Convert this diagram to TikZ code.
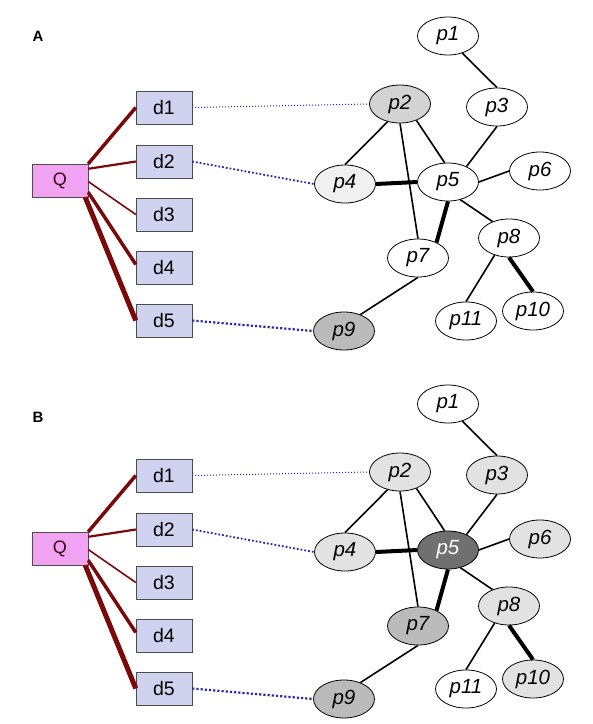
\documentclass[tikz,border=0pt]{standalone}
\usepackage{fontspec}
\setmainfont{Liberation Sans}
\usetikzlibrary{shapes.geometric,calc}
\definecolor{qfill}{HTML}{F2A2F2}
\definecolor{dfill}{HTML}{D0D3EF}
\definecolor{qline}{HTML}{7A0A0A}
\definecolor{dotblue}{HTML}{2A2AA8}
\definecolor{gA}{HTML}{D3D3D3}
\definecolor{gL}{HTML}{F0F0F0}
\definecolor{gM}{HTML}{BBBBBB}
\definecolor{gB}{HTML}{E2E2E2}
\definecolor{gD}{HTML}{707070}
\begin{document}
\begin{tikzpicture}[x=1pt,y=-1pt,
 txt/.style={font=\fontsize{19.5}{21}\selectfont},
 qbox/.style={font=\fontsize{18}{20}\selectfont,draw=black!70,fill=qfill,minimum width=56,minimum height=33,inner sep=0,text=black!70!purple},
 dbox/.style={txt,draw=black!70,fill=dfill,minimum width=56,minimum height=33,inner sep=0},
 pn/.style={ellipse,draw,line width=0.8,fill=white,minimum width=61,minimum height=38,inner sep=0,font=\fontsize{20.5}{22}\selectfont\itshape},
 qd/.style={draw=qline},
 link/.style={draw=dotblue,dotted},
 pe/.style={line width=1.6},
 pt/.style={line width=4},
 plabel/.style={font=\fontsize{15}{17}\selectfont\bfseries}]
\useasboundingbox (0,0) rectangle (593,724);
\node[plabel] (labA) at (38,36) {A};
\node[plabel] (labB) at (38,417) {B};
% ---------- Panel A ----------
\begin{scope}[name prefix=A-]
\node[qbox] (Q) at (60,180.5) {Q};
\node[dbox] (d1) at (164,107.5) {d1};
\node[dbox] (d2) at (164,161.5) {d2};
\node[dbox] (d3) at (164,214.5) {d3};
\node[dbox] (d4) at (164,267.5) {d4};
\node[dbox] (d5) at (164,320.5) {d5};
\node[pn] (p1) at (448,36) {p1};
\node[pn,fill=gA] (p2) at (400,104) {p2};
\node[pn] (p3) at (497,107) {p3};
\node[pn,fill=gL] (p4) at (345,184) {p4};
\node[pn] (p5) at (448,182) {p5};
\node[pn] (p6) at (540,171) {p6};
\node[pn] (p7) at (418,258) {p7};
\node[pn] (p8) at (509,238) {p8};
\node[pn,fill=gM] (p9) at (344,331) {p9};
\node[pn] (p10) at (533,311) {p10};
\node[pn] (p11) at (466,321) {p11};
\draw[qd,line width=3.5] (Q.north east) -- (d1.west);
\draw[qd,line width=2.2] ($(Q.north east)+(0,5)$) -- (d2.west);
\draw[qd,line width=1.6] ($(Q.east)+(0,1)$) -- (d3.west);
\draw[qd,line width=3.5] ($(Q.south east)+(0,-5)$) -- ($(d4.west)+(0,-3)$);
\draw[qd,line width=5] ($(Q.south east)+(-3,0)$) -- (d5.west);
\draw[link,line width=1] (d1.east) -- (p2.west);
\draw[link,line width=1.8] (d2.east) -- (p4.west);
\draw[link,line width=2.2] (d5.east) -- (p9.west);
\draw[pe] (p1.-50) -- (p3.north);
\draw[pe] (p2.235) -- (p4.north);
\draw[pe] (p2.south) -- (p7.north);
\draw[pe] (p2.-45) -- (p5.100);
\draw[pe] (p3.south) -- (p5.40);
\draw[pt] (p4.east) -- (p5.west);
\draw[pe] (p5.east) -- (p6.west);
\draw[pt] (p5.south) -- (p7.40);
\draw[pe] (p5.-55) -- (p8.135);
\draw[pe] (p7.south) -- (p9.45);
\draw[pe] (p8.230) -- (p11.north);
\draw[pt] (p8.south) -- (p10.north);
\end{scope}
% ---------- Panel B ----------
\begin{scope}[shift={(0,368)},name prefix=B-]
\node[qbox] (Q) at (60,180.5) {Q};
\node[dbox] (d1) at (164,107.5) {d1};
\node[dbox] (d2) at (164,161.5) {d2};
\node[dbox] (d3) at (164,214.5) {d3};
\node[dbox] (d4) at (164,267.5) {d4};
\node[dbox] (d5) at (164,320.5) {d5};
\node[pn] (p1) at (448,36) {p1};
\node[pn,fill=gB] (p2) at (400,104) {p2};
\node[pn,fill=gB] (p3) at (497,107) {p3};
\node[pn,fill=gB] (p4) at (345,184) {p4};
\node[pn,fill=gD,text=white] (p5) at (448,182) {p5};
\node[pn,fill=gB] (p6) at (540,171) {p6};
\node[pn,fill=gM] (p7) at (418,258) {p7};
\node[pn,fill=gB] (p8) at (509,238) {p8};
\node[pn,fill=gM] (p9) at (344,331) {p9};
\node[pn,fill=gB] (p10) at (533,311) {p10};
\node[pn] (p11) at (466,321) {p11};
\draw[qd,line width=3.5] (Q.north east) -- (d1.west);
\draw[qd,line width=2.2] ($(Q.north east)+(0,5)$) -- (d2.west);
\draw[qd,line width=1.6] ($(Q.east)+(0,1)$) -- (d3.west);
\draw[qd,line width=3.5] ($(Q.south east)+(0,-5)$) -- ($(d4.west)+(0,-3)$);
\draw[qd,line width=5] ($(Q.south east)+(-3,0)$) -- (d5.west);
\draw[link,line width=1] (d1.east) -- (p2.west);
\draw[link,line width=1.8] (d2.east) -- (p4.west);
\draw[link,line width=2.2] (d5.east) -- (p9.west);
\draw[pe] (p1.-50) -- (p3.north);
\draw[pe] (p2.235) -- (p4.north);
\draw[pe] (p2.south) -- (p7.north);
\draw[pe] (p2.-45) -- (p5.100);
\draw[pe] (p3.south) -- (p5.40);
\draw[pt] (p4.east) -- (p5.west);
\draw[pe] (p5.east) -- (p6.west);
\draw[pt] (p5.south) -- (p7.40);
\draw[pe] (p5.-55) -- (p8.135);
\draw[pe] (p7.south) -- (p9.45);
\draw[pe] (p8.230) -- (p11.north);
\draw[pt] (p8.south) -- (p10.north);
\end{scope}
\end{tikzpicture}
\end{document}
